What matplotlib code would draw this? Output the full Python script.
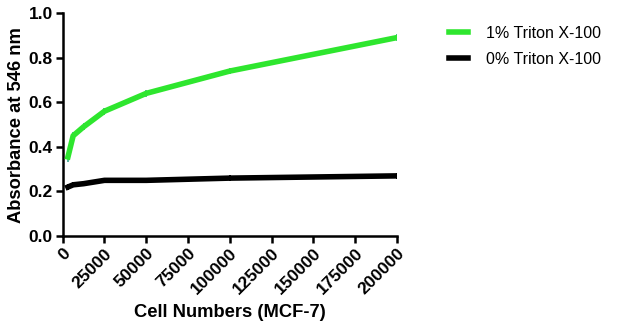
import matplotlib
matplotlib.use("Agg")
import matplotlib.pyplot as plt
from matplotlib.lines import Line2D

plt.rcParams["font.family"] = ["Liberation Sans", "DejaVu Sans"]

# Data
cells = [3125, 6250, 12500, 25000, 50000, 100000, 200000]
triton_1 = [0.355, 0.45, 0.49, 0.56, 0.64, 0.74, 0.89]
triton_1_err = [0.025, 0.018, 0.015, 0.015, 0.015, 0.013, 0.015]
triton_0 = [0.22, 0.23, 0.235, 0.25, 0.25, 0.26, 0.27]
triton_0_err = [0.015, 0.012, 0.012, 0.012, 0.012, 0.012, 0.012]
xticks = [0, 25000, 50000, 75000, 100000, 125000, 150000, 175000, 200000]
yticks = [0.0, 0.2, 0.4, 0.6, 0.8, 1.0]

GREEN = "#2ee62e"

fig = plt.figure(figsize=(6.21, 3.27), dpi=100)
ax = fig.add_axes([0.101, 0.278, 0.538, 0.682])

ax.errorbar(cells, triton_1, yerr=triton_1_err, color=GREEN, lw=4.0,
            ecolor="#3aa890", elinewidth=1.2, capsize=0, zorder=3)
ax.errorbar(cells, triton_0, yerr=triton_0_err, color="black", lw=4.0,
            ecolor="black", elinewidth=1.4, capsize=0, zorder=3)

ax.set_xlim(0, 200000)
ax.set_ylim(0, 1.0)
ax.set_xticks(xticks)
ax.set_xticklabels([str(t) for t in xticks], rotation=45, ha="right",
                   rotation_mode="anchor", fontweight="bold", fontsize=12.5)
ax.set_yticks(yticks)
ax.set_yticklabels([f"{t:.1f}" for t in yticks], fontweight="bold", fontsize=12.5)

for s in ["top", "right"]:
    ax.spines[s].set_visible(False)
for s in ["left", "bottom"]:
    ax.spines[s].set_linewidth(1.8)
ax.tick_params(width=1.8, length=5, direction="out", pad=2)

ax.set_xlabel("Cell Numbers (MCF-7)", fontweight="bold", fontsize=13.2, labelpad=5)
ax.set_ylabel("Absorbance at 546 nm", fontweight="bold", fontsize=13.2, labelpad=3)

handles = [Line2D([0], [0], color=GREEN, lw=4.0),
           Line2D([0], [0], color="black", lw=4.0)]
fig.legend(handles, ["1% Triton X-100", "0% Triton X-100"],
           loc="upper left", bbox_to_anchor=(0.70, 0.965), frameon=False,
           fontsize=11.5, handlelength=1.2, handletextpad=1.1, labelspacing=0.7)

fig.savefig("out.png", dpi=100)
